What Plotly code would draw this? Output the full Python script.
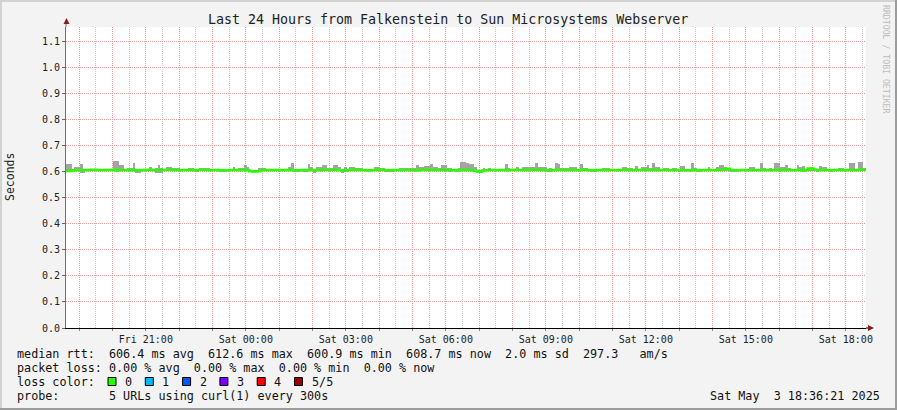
import pandas as pd
import plotly.graph_objects as go

# ---------------- data ----------------
start_time = "2025-05-02 18:36:21"
end_time = "2025-05-03 18:36:21"
step_seconds = 300

# median RTT per 5-minute step (ms)
median_ms = [
    603, 603, 605, 606, 607, 607, 606, 606, 607, 608, 608, 607, 606, 606, 607, 607, 608, 606, 605, 606, 607, 607, 606, 606,
    607, 606, 605, 606, 607, 608, 608, 607, 606, 606, 607, 607, 608, 608, 607, 606, 606, 606, 607, 607, 606, 606, 607, 607,
    608, 608, 607, 606, 606, 607, 607, 606, 605, 605, 606, 607, 607, 607, 606, 606, 607, 606, 602, 601, 601, 602, 606, 607,
    607, 606, 606, 607, 607, 606, 606, 607, 607, 606, 605, 605, 606, 607, 607, 606, 607, 607, 606, 606, 607, 608, 608, 607,
    608, 607, 606, 605, 605, 606, 607, 607, 608, 607, 606, 606, 605, 605, 606, 607, 607, 608, 607, 606, 606, 606, 607, 607,
    606, 606, 607, 607, 606, 605, 605, 606, 607, 607, 608, 607, 606, 606, 607, 607, 606, 606, 605, 606, 607, 607, 606, 606,
    607, 607, 605, 604, 601, 602, 605, 606, 607, 607, 606, 606, 607, 607, 606, 606, 607, 608, 607, 607, 606, 606, 607, 607,
    608, 607, 607, 606, 606, 607, 607, 606, 607, 608, 607, 606, 606, 607, 607, 606, 606, 607, 608, 607, 606, 606, 606, 607,
    607, 606, 606, 607, 607, 606, 606, 607, 607, 608, 607, 606, 606, 607, 607, 608, 607, 606, 607, 607, 606, 606, 607, 607,
    607, 606, 606, 607, 607, 606, 606, 605, 605, 606, 607, 607, 606, 606, 607, 607, 606, 606, 607, 608, 607, 611, 611, 607,
    606, 605, 606, 607, 607, 606, 606, 607, 607, 606, 606, 607, 607, 606, 606, 607, 607, 606, 606, 607, 607, 606, 606, 607,
    606, 605, 607, 612.6, 612, 609, 607, 606, 606, 607, 607, 606, 606, 607, 607, 606, 606, 607, 607, 606, 606, 607, 608, 608.7,
]

# top of the smoke (slowest ping) per step (ms)
smoke_hi_ms = [
    629, 629, 610, 618, 618, 629, 610, 610, 612, 612, 610, 610, 611, 612, 610, 610, 610, 641, 641, 625, 625, 610, 614, 613,
    635, 610, 610, 610, 612, 612, 618, 610, 614, 625, 614, 610, 617, 617, 614, 614, 614, 610, 610, 610, 613, 613, 610, 610,
    613, 613, 613, 613, 610, 610, 610, 610, 611, 611, 610, 610, 617, 610, 613, 613, 625, 620, 608, 607, 607, 616, 616, 616,
    612, 612, 610, 610, 610, 610, 610, 610, 620, 635, 610, 610, 610, 610, 610, 629, 620, 610, 617, 617, 627, 627, 613, 613,
    627, 627, 620, 610, 617, 610, 618, 618, 613, 613, 613, 610, 611, 610, 610, 618, 618, 613, 613, 610, 610, 610, 610, 610,
    613, 613, 613, 613, 613, 613, 627, 618, 618, 622, 622, 630, 617, 617, 613, 625, 625, 613, 613, 610, 611, 613, 638, 638,
    634, 629, 629, 617, 606, 606, 613, 610, 613, 610, 610, 610, 610, 610, 629, 613, 610, 610, 620, 610, 617, 617, 617, 618,
    618, 632, 617, 617, 617, 610, 613, 610, 632, 630, 613, 613, 613, 617, 617, 617, 610, 628, 613, 613, 610, 610, 610, 610,
    610, 613, 613, 613, 610, 610, 610, 610, 620, 620, 613, 613, 610, 622, 610, 617, 617, 625, 613, 633, 617, 617, 610, 613,
    613, 610, 614, 614, 610, 622, 622, 610, 610, 633, 613, 610, 610, 610, 610, 617, 610, 610, 617, 627, 627, 617, 614, 610,
    610, 610, 610, 610, 610, 610, 617, 617, 610, 610, 633, 613, 610, 613, 610, 633, 633, 620, 620, 625, 613, 610, 610, 625,
    620, 621, 610, 616, 617, 612, 610, 622, 617, 617, 610, 610, 610, 610, 613, 613, 610, 610, 633, 633, 610, 638, 638, 613,
]

# bottom of the smoke (fastest ping) per step (ms)
smoke_lo_ms = [
    601, 601, 603, 603, 603, 597, 597, 603, 603, 603, 603, 603, 603, 603, 603, 603, 603, 603, 603, 603, 603, 603, 603, 603,
    603, 597, 597, 603, 603, 603, 603, 603, 597, 597, 597, 603, 603, 603, 603, 603, 603, 603, 603, 603, 603, 603, 599, 599,
    603, 603, 603, 603, 603, 603, 603, 599, 599, 599, 603, 603, 603, 603, 603, 603, 603, 603, 598, 598, 598, 599, 603, 603,
    603, 603, 603, 603, 603, 603, 603, 603, 603, 603, 599, 599, 603, 599, 599, 603, 603, 597, 603, 603, 603, 603, 603, 603,
    603, 603, 603, 597, 599, 599, 603, 603, 603, 603, 603, 603, 603, 603, 603, 603, 603, 603, 603, 599, 599, 599, 603, 603,
    603, 603, 603, 603, 603, 603, 603, 603, 603, 603, 603, 603, 603, 603, 603, 603, 603, 603, 603, 603, 599, 599, 603, 603,
    603, 603, 599, 603, 597, 597, 603, 603, 603, 603, 603, 603, 603, 603, 603, 603, 603, 603, 603, 603, 603, 603, 603, 603,
    603, 603, 603, 603, 603, 599, 599, 603, 603, 603, 603, 603, 603, 603, 603, 603, 603, 603, 603, 603, 603, 599, 599, 603,
    603, 603, 603, 603, 603, 603, 603, 603, 603, 603, 603, 603, 603, 603, 603, 603, 603, 603, 603, 603, 603, 603, 603, 603,
    603, 603, 603, 603, 603, 603, 603, 603, 603, 603, 603, 599, 599, 603, 603, 603, 603, 603, 603, 603, 603, 603, 603, 599,
    599, 603, 603, 603, 603, 603, 603, 603, 603, 603, 603, 603, 603, 603, 603, 603, 603, 603, 603, 603, 603, 603, 603, 603,
    603, 599, 603, 603, 603, 603, 599, 603, 603, 603, 603, 599, 603, 603, 603, 603, 603, 603, 603, 603, 603, 603, 603, 603,
]

y_tick_values = [0.0, 0.1, 0.2, 0.3, 0.4, 0.5, 0.6, 0.7, 0.8, 0.9, 1.0, 1.1]
y_tick_labels = ["0.0", "0.1", "0.2", "0.3", "0.4", "0.5", "0.6", "0.7", "0.8", "0.9", "1.0", "1.1"]
y_max = 1.156

x_hour_ticks = pd.date_range("2025-05-02 19:00", "2025-05-03 18:00", freq="h")
x_tick_labels = [
    "", "", "Fri 21:00", "", "", "Sat 00:00", "", "", "Sat 03:00", "", "", "Sat 06:00",
    "", "", "Sat 09:00", "", "", "Sat 12:00", "", "", "Sat 15:00", "", "", "Sat 18:00",
]
x_half_hours = pd.date_range("2025-05-02 19:30", "2025-05-03 18:30", freq="h")

title_text = "Last 24 Hours from Falkenstein to Sun Microsystems Webserver"
legend_lines = [
    "median rtt:  606.4 ms avg  612.6 ms max  600.9 ms min  608.7 ms now  2.0 ms sd  297.3   am/s",
    "packet loss: 0.00 % avg  0.00 % max  0.00 % min  0.00 % now",
    "loss color:",
    "probe:       5 URLs using curl(1) every 300s",
]
loss_labels = ["0", "1", "2", "3", "4", "5/5"]
loss_colors = ["#26ff00", "#00b8ff", "#0059ff", "#7e00ff", "#ff0000", "#a10000"]
date_text = "Sat May  3 18:36:21 2025"

# ---------------- figure ----------------
W, H = 897, 410
L, R, T, B = 66, 866, 27, 328
FONT = "DejaVu Sans Mono"


def px_x(px):
    return (px - L) / (R - L)


def px_y(py):
    return (B - py) / (B - T)


def nb(s):
    return s.replace(" ", "\u00a0")


t_start = pd.Timestamp(start_time)
t_end = pd.Timestamp(end_time)
steps = pd.date_range(t_start, periods=len(median_ms), freq=f"{step_seconds}s")
centers = steps + pd.Timedelta(seconds=step_seconds / 2)

median_s = [v / 1000 for v in median_ms]
hi_s = [v / 1000 for v in smoke_hi_ms]
lo_s = [v / 1000 for v in smoke_lo_ms]

fig = go.Figure()
fig.add_trace(go.Bar(
    x=centers, y=[h - l for h, l in zip(hi_s, lo_s)], base=lo_s,
    width=step_seconds * 1000, marker=dict(color="#a4a4a4", line=dict(width=0)),
    hoverinfo="skip", showlegend=False,
))
fig.add_trace(go.Scatter(
    x=list(steps) + [t_end], y=median_s + [median_s[-1]],
    mode="lines", line=dict(color="#26ff00", width=2.6, shape="hv"),
    showlegend=False,
))

grid_major = "#f09696"
grid_minor = "#c8c8c8"
fig.update_layout(
    width=W, height=H,
    margin=dict(l=L, r=W - R, t=T, b=H - B, pad=0),
    paper_bgcolor="#f3f3f3", plot_bgcolor="#ffffff",
    bargap=0, showlegend=False,
    font=dict(family=FONT, color="#222222"),
    xaxis=dict(
        type="date", range=[t_start, t_end],
        tickmode="array", tickvals=x_hour_ticks, ticktext=x_tick_labels,
        showgrid=True, gridcolor=grid_major, griddash="1px,1px", gridwidth=1,
        ticks="outside", ticklen=2, tickcolor="#888888",
        showline=True, linecolor="#000000", linewidth=1, zeroline=False,
        tickfont=dict(family=FONT, size=10, color="#222222"),
        minor=dict(tickmode="array", tickvals=x_half_hours, showgrid=True,
                   gridcolor=grid_minor, griddash="1px,1px", ticks=""),
    ),
    yaxis=dict(
        range=[0, y_max], tickmode="array", tickvals=y_tick_values, ticktext=y_tick_labels,
        showgrid=True, gridcolor=grid_major, griddash="1px,1px", gridwidth=1,
        ticks="outside", ticklen=3, tickcolor="#666666",
        showline=True, linecolor="#707070", linewidth=1, zeroline=False,
        tickfont=dict(family=FONT, size=10, color="#222222"),
    ),
)

shapes = []
# axis extensions and arrows
shapes.append(dict(type="line", xref="paper", yref="paper", x0=0, x1=0,
                   y0=1, y1=px_y(22), line=dict(color="#707070", width=1)))
shapes.append(dict(type="path", xref="paper", yref="paper",
                   path=f"M {px_x(63.5)},{px_y(24)} L {px_x(69.5)},{px_y(24)} L {px_x(66.5)},{px_y(18)} Z",
                   fillcolor="#8b1c1c", line=dict(width=0)))
shapes.append(dict(type="line", xref="paper", yref="paper", x0=1, x1=px_x(869),
                   y0=0, y1=0, line=dict(color="#000000", width=1)))
shapes.append(dict(type="path", xref="paper", yref="paper",
                   path=f"M {px_x(868)},{px_y(325)} L {px_x(868)},{px_y(331)} L {px_x(874)},{px_y(328)} Z",
                   fillcolor="#8b1c1c", line=dict(width=0)))
# outer frame
shapes.append(dict(type="rect", xref="paper", yref="paper", x0=px_x(0), x1=px_x(W),
                   y0=px_y(0), y1=px_y(2), fillcolor="#d2d2d2", line=dict(width=0)))
shapes.append(dict(type="rect", xref="paper", yref="paper", x0=px_x(0), x1=px_x(2),
                   y0=px_y(0), y1=px_y(H), fillcolor="#d2d2d2", line=dict(width=0)))
shapes.append(dict(type="rect", xref="paper", yref="paper", x0=px_x(0), x1=px_x(W),
                   y0=px_y(H - 2), y1=px_y(H), fillcolor="#9c9c9c", line=dict(width=0)))
shapes.append(dict(type="rect", xref="paper", yref="paper", x0=px_x(W - 2), x1=px_x(W),
                   y0=px_y(0), y1=px_y(H), fillcolor="#9c9c9c", line=dict(width=0)))

annotations = []
annotations.append(dict(text=nb(title_text), x=px_x(448), y=px_y(19), xref="paper", yref="paper",
                        xanchor="center", yanchor="middle", showarrow=False,
                        font=dict(family=FONT, size=13.3, color="#222222")))
annotations.append(dict(text="Seconds", x=px_x(10), y=px_y(177), xref="paper", yref="paper",
                        xanchor="center", yanchor="middle", showarrow=False, textangle=-90,
                        font=dict(family=FONT, size=11.5, color="#222222")))
annotations.append(dict(text=nb("RRDTOOL / TOBI OETIKER"), x=px_x(886), y=px_y(60),
                        xref="paper", yref="paper", xanchor="center", yanchor="middle",
                        showarrow=False, textangle=90,
                        font=dict(family=FONT, size=8.2, color="#bdbdbd")))

legend_y = [354, 368, 382, 396]
for line, ly in zip(legend_lines, legend_y):
    annotations.append(dict(text=nb(line), x=px_x(15), y=px_y(ly), xref="paper", yref="paper",
                            xanchor="left", yanchor="middle", showarrow=False,
                            font=dict(family=FONT, size=11.75, color="#111111")))

for i, (lab, col) in enumerate(zip(loss_labels, loss_colors)):
    bx = 108 + i * 37.3
    shapes.append(dict(type="rect", xref="paper", yref="paper",
                       x0=px_x(bx), x1=px_x(bx + 8), y0=px_y(377.5), y1=px_y(385.5),
                       fillcolor=col, line=dict(color="#000000", width=1)))
    annotations.append(dict(text=lab, x=px_x(bx + 15), y=px_y(382), xref="paper", yref="paper",
                            xanchor="left", yanchor="middle", showarrow=False,
                            font=dict(family=FONT, size=11.75, color="#111111")))

annotations.append(dict(text=nb(date_text), x=px_x(882), y=px_y(396), xref="paper", yref="paper",
                        xanchor="right", yanchor="middle", showarrow=False,
                        font=dict(family=FONT, size=11.75, color="#111111")))

fig.update_layout(shapes=shapes, annotations=annotations)
fig.write_html("out.html", config={"displayModeBar": False},
               post_script="document.body.style.margin='0';document.body.style.overflow='hidden';")
